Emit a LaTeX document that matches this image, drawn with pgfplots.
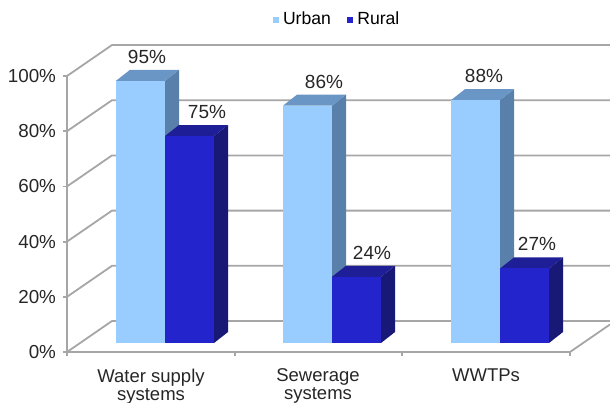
\documentclass[border=0pt]{standalone}
\usepackage{pgfplots}
\pgfplotsset{compat=1.18}
\usepackage{fontspec}
\setmainfont{Liberation Sans}

\definecolor{urbanfront}{RGB}{153,204,255}
\definecolor{urbanside}{RGB}{88,128,170}
\definecolor{urbantop}{RGB}{106,150,198}
\definecolor{ruralfront}{RGB}{36,36,204}
\definecolor{ruralside}{RGB}{24,24,118}
\definecolor{ruraltop}{RGB}{30,30,150}
\definecolor{gridgray}{RGB}{166,166,166}

\newcommand{\tickfont}{\fontsize{9.4}{11}\selectfont}
\newcommand{\catfont}{\fontsize{9.25}{9}\selectfont}
\newcommand{\valfont}{\fontsize{9.5}{11}\selectfont}
\newcommand{\legfont}{\fontsize{8.8}{10}\selectfont}

% x runs in pixels of the layout, y in percent on the front plane
\def\bw{49}      % bar width
\def\base{3.26}  % bars stand a little behind the front edge of the floor
\def\ddx{14}     % bar depth, horizontal
\def\ddy{3.99}   % bar depth, vertical

% one 3D bar: #1 left edge, #2 value, #3 label x, #4 front, #5 side, #6 top
\newcommand{\cuboid}[6]{%
  \pgfmathsetmacro{\xa}{#1}%
  \pgfmathsetmacro{\xb}{#1+\bw}%
  \pgfmathsetmacro{\xc}{#1+\bw+\ddx}%
  \pgfmathsetmacro{\xd}{#1+\ddx}%
  \pgfmathsetmacro{\ya}{\base}%
  \pgfmathsetmacro{\yb}{\base+#2}%
  \pgfmathsetmacro{\yc}{\base+#2+\ddy}%
  \pgfmathsetmacro{\ye}{\base+\ddy}%
  \addplot[fill=#5, draw=none] coordinates {(\xb,\ya) (\xc,\ye) (\xc,\yc) (\xb,\yb)};
  \addplot[fill=#6, draw=none] coordinates {(\xa,\yb) (\xb,\yb) (\xc,\yc) (\xd,\yc)};
  \addplot[fill=#4, draw=none] coordinates {(\xa,\ya) (\xb,\ya) (\xb,\yb) (\xa,\yb)};
  \addplot[draw=none, mark=none, nodes near coords={#2\%},
    nodes near coords style={anchor=south, inner sep=0pt, yshift=3pt, font=\valfont, text=black!85}]
    coordinates {(#3,\yc)};
}

\begin{document}
\begin{tikzpicture}
\begin{axis}[
  scale only axis, width=251.5pt, height=138pt,
  xmin=67, xmax=570, ymin=0, ymax=100,
  clip=false,
  axis x line*=bottom, axis y line*=left,
  axis line style={gridgray, line width=0.9pt},
  tick align=outside,
  ytick={0,20,40,60,80,100},
  yticklabels={0\%,20\%,40\%,60\%,80\%,100\%},
  yticklabel style={font=\tickfont, text=black!85},
  major tick length=2pt, minor tick length=2pt,
  y tick style={gridgray, line width=0.9pt},
  xtick={151,318,486},
  xticklabels={{Water supply\\systems},{Sewerage\\systems},{WWTPs}},
  xticklabel style={align=center, font=\catfont, text=black!85, yshift=-3pt},
  major x tick style={draw=none},
  minor xtick={67,235,402,570},
  minor x tick style={gridgray, line width=0.9pt},
  legend columns=2,
  legend style={at={(0.5388,1.203)}, anchor=center, draw=none, fill=none,
    font=\legfont, inner sep=0pt,
    /tikz/every even column/.append style={column sep=6pt}},
  legend image code/.code={\fill[#1] (0pt,-1.6pt) rectangle (3.2pt,1.6pt);},
]
\addlegendimage{fill=urbanfront, draw=none}
\addlegendentry{Urban}
\addlegendimage{fill=ruralfront, draw=none}
\addlegendentry{Rural}

% side wall and back wall gridlines
\draw[gridgray, line width=0.9pt] (axis cs:67,0)   -- (axis cs:112,11.23)  -- (axis cs:610,11.23);
\draw[gridgray, line width=0.9pt] (axis cs:67,20)  -- (axis cs:112,31.23)  -- (axis cs:610,31.23);
\draw[gridgray, line width=0.9pt] (axis cs:67,40)  -- (axis cs:112,51.23)  -- (axis cs:610,51.23);
\draw[gridgray, line width=0.9pt] (axis cs:67,60)  -- (axis cs:112,71.23)  -- (axis cs:610,71.23);
\draw[gridgray, line width=0.9pt] (axis cs:67,80)  -- (axis cs:112,91.23)  -- (axis cs:610,91.23);
\draw[gridgray, line width=0.9pt] (axis cs:67,100) -- (axis cs:112,111.23) -- (axis cs:610,111.23);
% right edge of the floor
\draw[gridgray, line width=0.9pt] (axis cs:570,0) -- (axis cs:610,9.98);

% Water supply systems
\cuboid{116}{95}{147}{urbanfront}{urbanside}{urbantop}
\cuboid{165}{75}{207}{ruralfront}{ruralside}{ruraltop}
% Sewerage systems
\cuboid{283}{86}{324}{urbanfront}{urbanside}{urbantop}
\cuboid{332}{24}{372}{ruralfront}{ruralside}{ruraltop}
% WWTPs
\cuboid{451}{88}{484}{urbanfront}{urbanside}{urbantop}
\cuboid{500}{27}{537}{ruralfront}{ruralside}{ruraltop}

\coordinate (bbBL) at (axis cs:0,-18.12);
\coordinate (bbTR) at (axis cs:610,127.54);
\end{axis}
\pgfresetboundingbox
\useasboundingbox (bbBL) rectangle (bbTR);
\end{tikzpicture}
\end{document}
